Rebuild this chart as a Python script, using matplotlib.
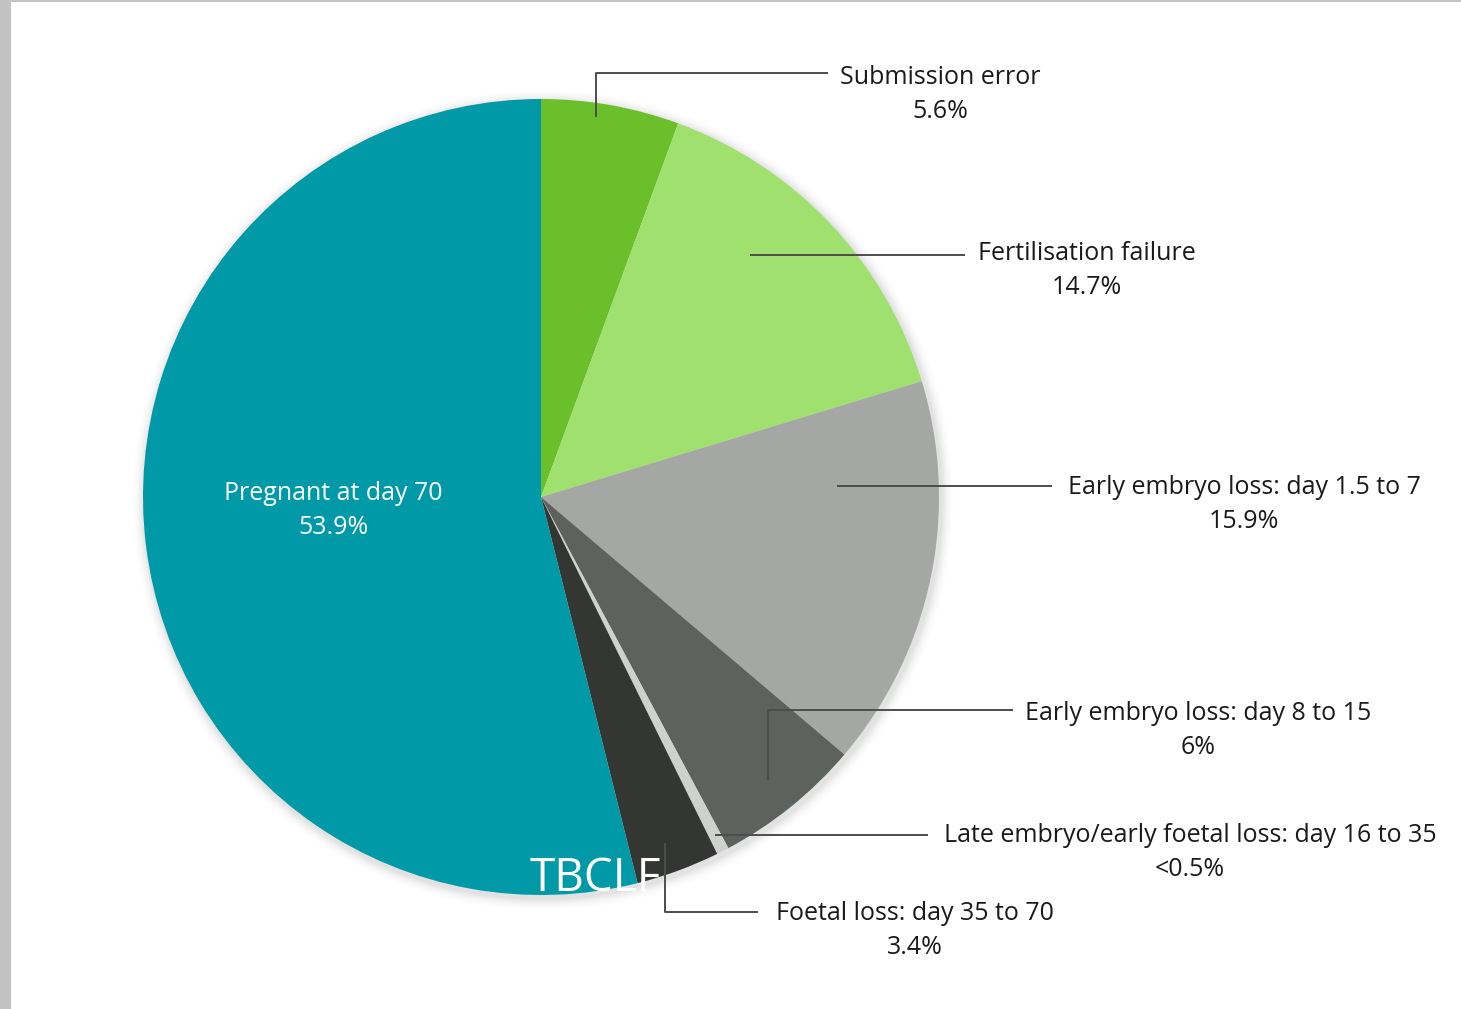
import matplotlib
matplotlib.use("Agg")
import matplotlib.pyplot as plt
from matplotlib.patches import Circle, Rectangle
import numpy as np

# ---- data ----
categories = ["Submission error", "Fertilisation failure",
              "Early embryo loss: day 1.5 to 7", "Early embryo loss: day 8 to 15",
              "Late embryo/early foetal loss: day 16 to 35",
              "Foetal loss: day 35 to 70", "Pregnant at day 70"]
values = [5.6, 14.7, 15.9, 6.0, 0.5, 3.4, 53.9]
value_labels = ["5.6%", "14.7%", "15.9%", "6%", "<0.5%", "3.4%", "53.9%"]
colors = ["#6bbf2b", "#9fe06f", "#a4a7a4", "#5e625e", "#cfd1cf", "#343634", "#0099a7"]

W, H = 1461, 1009
fig = plt.figure(figsize=(W / 100, H / 100), dpi=100)
ax = fig.add_axes([0, 0, 1, 1])
ax.set_xlim(0, W)
ax.set_ylim(0, H)
ax.axis("off")

def Y(y):
    return H - y

cx, cy, R = 541, Y(497), 398

# soft shadow
for i, a in enumerate(np.linspace(0.06, 0.015, 6)):
    ax.add_patch(Circle((cx + 2, cy - 3), R + 2 + i * 2, color="#808080", alpha=a, lw=0, zorder=1))

wedges, _ = ax.pie(values, colors=colors, startangle=90, counterclock=False,
                   center=(cx, cy), radius=R, frame=True,
                   wedgeprops=dict(linewidth=0, zorder=2))
ax.set_xlim(0, W)
ax.set_ylim(0, H)
ax.axis("off")
for w in wedges:
    w.set_zorder(2)

font = ["Open Sans", "DejaVu Sans"]
fs = 18
lc = "#4d4d4d"

# leader lines: (path points in px), text center x, text first-line y
layout = {
    0: ([(596, 117), (596, 73), (828, 73)], 940, 75),
    1: ([(750, 255), (965, 255)], 1087, 252),
    2: ([(837, 486), (1052, 486)], 1244, 486),
    3: ([(768, 780), (768, 710), (1013, 710)], 1198, 711),
    4: ([(715, 835), (928, 835)], 1190, 833),
    5: ([(665, 843), (665, 912), (758, 912)], 915, 912),
}
for i, (pts, tx, ty) in layout.items():
    xs = [p[0] for p in pts]
    ys = [Y(p[1]) for p in pts]
    ax.plot(xs, ys, color=lc, lw=1.4, zorder=5, solid_capstyle="butt")
    ax.text(tx, Y(ty + 2), categories[i], ha="center", va="center", fontsize=fs,
            family=font, color="#1a1a1a", zorder=6)
    ax.text(tx, Y(ty + 36), value_labels[i], ha="center", va="center", fontsize=fs,
            family=font, color="#1a1a1a", zorder=6)

# pregnant label inside
ax.text(333, Y(494), categories[6], ha="center", va="center", fontsize=fs,
        family=font, color="white", zorder=6)
ax.text(333, Y(528), value_labels[6], ha="center", va="center", fontsize=fs,
        family=font, color="white", zorder=6)

# watermark
ax.text(595, Y(879), "TBCLF", ha="center", va="center", fontsize=33,
        family=font, color="white", zorder=7)

# frame strips
ax.add_patch(Rectangle((0, 0), 11, H, color="#c2c2c2", lw=0, zorder=10))
ax.add_patch(Rectangle((0, H - 2), W, 2, color="#c2c2c2", lw=0, zorder=10))

fig.savefig("out.png", dpi=100, facecolor="white")
